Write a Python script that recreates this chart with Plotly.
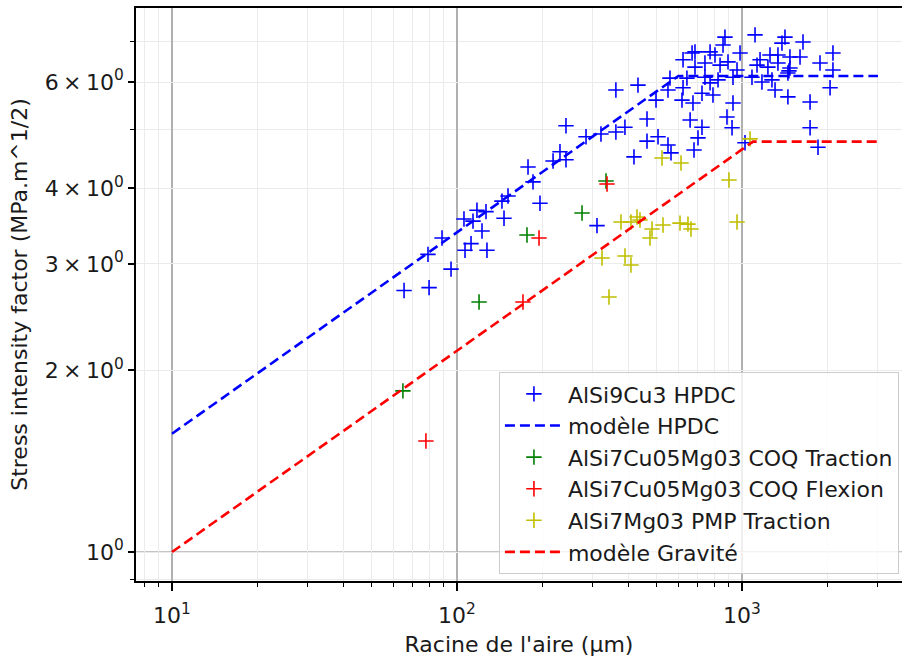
import plotly.graph_objects as go

# ---------------- data ----------------
hpdc_x = [65.2, 79.8, 95.3, 79.1, 88.6, 106.7, 112, 127.4, 105.8, 113.8, 117.5, 126.4, 122.4,
          143.8, 151, 146.2, 177.5, 184.8, 195.5, 217.3, 229.8, 241.2, 241.2, 283.6, 320, 361,
          388.4, 361, 431.5, 309.9, 417.8, 464.2, 464.2, 507.4, 549.9, 563.5, 499.2, 549.9,
          558.8, 615.8, 621, 621, 668, 684, 684, 640.9, 657.6, 673, 678.6, 700.8, 723.8, 723.8,
          741.3, 741.3, 772.6, 772.6, 791, 804, 824, 837.5, 857.9, 871.4, 885.7, 893.1, 922.7,
          929.9, 929.9, 960.6, 984.3, 1024.5, 1084, 1111, 1129, 1157, 1175, 1233, 1254, 1274,
          1306, 1337, 1337, 1381, 1415, 1449, 1473, 1449, 1473, 1598, 1637, 1733, 1733, 1848,
          1878, 2037, 2085, 2085, 1461]
hpdc_y = [2.71, 2.74, 2.94, 3.11, 3.31, 3.16, 3.24, 3.16, 3.56, 3.53, 3.68, 3.66, 3.40,
          3.81, 3.885, 3.57, 4.34, 4.10, 3.78, 4.44, 4.60, 4.46, 5.08, 4.87, 4.92, 4.96,
          5.05, 5.82, 5.93, 3.47, 4.51, 5.21, 4.79, 4.87, 4.72, 4.58, 5.60, 5.82,
          6.09, 5.60, 5.87, 6.53, 6.70, 6.73, 6.35, 6.09, 5.19, 5.54, 4.63, 4.85, 5.05, 5.75,
          6.45, 6.11, 6.73, 5.98, 5.71, 6.65, 6.05, 6.40, 6.91, 7.12, 5.25, 6.48, 5.04,
          5.54, 6.11, 6.28, 6.70, 4.76, 6.11, 7.18, 6.40, 6.53, 6.00, 6.35, 6.65, 6.05,
          5.82, 6.65, 6.45, 6.96, 7.12, 6.21, 6.33, 5.67, 6.60, 6.60, 6.99, 5.56, 5.04, 4.68,
          6.45, 5.87, 6.70, 6.28, 6.26]

model_hpdc_x = [10, 598, 3000]
model_hpdc_y = [1.57, 6.14, 6.14]

coq_trac_x = [64.6, 119.5, 176, 274.6, 333.3]
coq_trac_y = [1.848, 2.594, 3.348, 3.641, 4.114]

coq_flex_x = [77.8, 170.4, 194, 336]
coq_flex_y = [1.527, 2.594, 3.311, 4.067]

pmp_x = [524, 611, 900, 960.6, 376.2, 407.7, 428.1, 438.6, 483.4, 475.5, 528.2, 606, 646.3,
         662.2, 322.8, 388.6, 407.7, 341.5, 1067]
pmp_y = [4.491, 4.406, 4.13, 3.518, 3.518, 3.518, 3.586, 3.545, 3.426, 3.311, 3.478, 3.504,
         3.491, 3.426, 3.067, 3.091, 2.987, 2.644, 4.83]

model_grav_x = [10, 1093, 3000]
model_grav_y = [1.0, 4.78, 4.78]

x_major = [10, 100, 1000]
x_major_text = ["10<sup>1</sup>", "10<sup>2</sup>", "10<sup>3</sup>"]
x_minor = [8, 9, 20, 30, 40, 50, 60, 70, 80, 90, 200, 300, 400, 500, 600, 700, 800, 900, 2000, 3000]
y_labeled = [1, 2, 3, 4, 6]
y_labeled_text = ["10<sup>0</sup>", "2\u2009×\u200910<sup>0</sup>", "3\u2009×\u200910<sup>0</sup>",
                  "4\u2009×\u200910<sup>0</sup>", "6\u2009×\u200910<sup>0</sup>"]
y_minor = [0.9, 5, 7]

# ---------------- figure ----------------
FONT = "DejaVu Sans"
FS = 22
TXT = "#1a1a1a"


def marker_trace(x, y, name, color, group):
    return go.Scatter(x=x, y=y, mode="markers", name=name, legendgroup=group,
                      marker=dict(symbol="cross-thin", size=11, color=color,
                                  line=dict(color=color, width=1.6)))


def line_trace(x, y, name, color, group):
    return go.Scatter(x=x, y=y, mode="lines", name=name, legendgroup=group,
                      line=dict(color=color, width=2.6, dash="10px,5px"))


fig = go.Figure()
fig.add_trace(marker_trace(hpdc_x, hpdc_y, "AlSi9Cu3 HPDC", "#0000ff", "g1"))
fig.add_trace(line_trace(model_hpdc_x, model_hpdc_y, "modèle HPDC", "#0000ff", "g2"))
fig.add_trace(marker_trace(coq_trac_x, coq_trac_y, "AlSi7Cu05Mg03 COQ Traction", "#008000", "g3"))
fig.add_trace(marker_trace(coq_flex_x, coq_flex_y, "AlSi7Cu05Mg03 COQ Flexion", "#ff0000", "g4"))
fig.add_trace(marker_trace(pmp_x, pmp_y, "AlSi7Mg03 PMP Traction", "#bfbf00", "g5"))
fig.add_trace(line_trace(model_grav_x, model_grav_y, "modèle Gravité", "#ff0000", "g6"))

# darker major gridline at y = 1
fig.add_shape(type="line", xref="paper", x0=0, x1=1, yref="y", y0=1, y1=1,
              line=dict(color="#b0b0b0", width=1.6), layer="below")

fig.update_layout(
    width=902, height=657,
    margin=dict(l=136, r=0, t=8, b=76, autoexpand=False),
    paper_bgcolor="white", plot_bgcolor="white",
    font=dict(family=FONT, size=FS, color=TXT),
    showlegend=True,
    legend=dict(x=0.996, xanchor="right", y=0.012, yanchor="bottom",
                bgcolor="rgba(255,255,255,0.8)", bordercolor="#cccccc", borderwidth=1,
                font=dict(family=FONT, size=FS, color=TXT),
                itemwidth=58, tracegroupgap=2.3, traceorder="normal"),
    xaxis=dict(
        type="log", range=[0.8737, 3.5614],
        tickmode="array", tickvals=x_major, ticktext=x_major_text,
        ticks="outside", ticklen=8, tickwidth=1.5, tickcolor="black",
        ticklabelstandoff=6,
        showgrid=True, gridcolor="#b0b0b0", gridwidth=1.6,
        showline=True, linecolor="black", linewidth=1.8, mirror=True,
        zeroline=False,
        minor=dict(tickmode="array", tickvals=x_minor, ticks="outside", ticklen=4.5,
                   tickwidth=1.2, tickcolor="black", showgrid=True,
                   gridcolor="#ebebeb", gridwidth=1.4),
        title=dict(text="Racine de l'aire (µm)", standoff=9, font=dict(size=FS)),
        tickfont=dict(size=FS), automargin=False,
    ),
    yaxis=dict(
        type="log", range=[-0.048, 0.9007],
        tickmode="array", tickvals=y_labeled, ticktext=y_labeled_text,
        ticks="outside", ticklen=6, tickwidth=1.5, tickcolor="black",
        showgrid=True, gridcolor="#ebebeb", gridwidth=1.4,
        showline=True, linecolor="black", linewidth=1.8, mirror=False,
        zeroline=False,
        minor=dict(tickmode="array", tickvals=y_minor, ticks="outside", ticklen=4.5,
                   tickwidth=1.2, tickcolor="black", showgrid=True,
                   gridcolor="#ebebeb", gridwidth=1.4),
        title=dict(text="Stress intensity factor (MPa.m^1/2)", standoff=11, font=dict(size=FS)),
        tickfont=dict(size=FS), automargin=False,
    ),
)

fig.write_html("out.html",
               config={"displayModeBar": False},
               post_script="document.body.style.margin='0px';"
                           "document.body.style.overflow='hidden';")
